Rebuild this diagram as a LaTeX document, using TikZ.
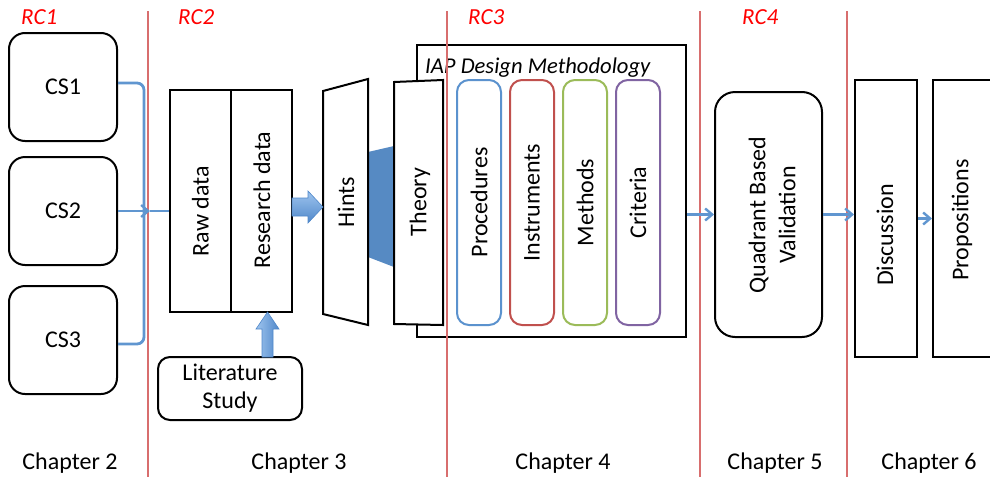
\documentclass[tikz,border=0pt]{standalone}
\usepackage{fontspec}
\setmainfont{Carlito}
\usetikzlibrary{arrows.meta,calc}

\definecolor{divider}{RGB}{216,110,110}
\definecolor{rclabel}{RGB}{255,0,0}
\definecolor{flow}{RGB}{96,150,208}
\definecolor{flowlight}{RGB}{158,196,238}
\definecolor{flowdark}{RGB}{80,136,202}
\definecolor{wedge}{RGB}{86,138,195}
\definecolor{cproc}{RGB}{91,146,206}
\definecolor{cinst}{RGB}{192,80,77}
\definecolor{cmeth}{RGB}{155,187,89}
\definecolor{ccrit}{RGB}{128,100,162}

\begin{document}
\begin{tikzpicture}[x=1pt,y=-1pt,
  txt/.style={font=\fontsize{24}{28}\selectfont},
  box/.style={draw=black,line width=2,fill=white,inner sep=0},
  rbox/.style={box,rounded corners=#1},
  vlabel/.style={txt,rotate=90,align=center},
  rc/.style={font=\fontsize{23}{26}\selectfont\itshape,text=rclabel,anchor=base west,inner sep=0},
  chap/.style={txt,anchor=base,inner sep=0},
  divline/.style={draw=divider,line width=1.1},
  flowline/.style={draw=flow,line width=2.8},
  flowarrow/.style={flowline,-{Straight Barb[length=7,width=12,line width=2.4]}},
  blockarrow/.style={draw=flowdark,line width=0.6},
]
\useasboundingbox (0,0) rectangle (990,477);
\clip (0,0) rectangle (990,477);

% case studies
\node[rbox=16,minimum width=108,minimum height=108,txt] (cs1) at (63,87) {CS1};
\node[rbox=16,minimum width=108,minimum height=108,txt] (cs2) at (63,211) {CS2};
\node[rbox=16,minimum width=108,minimum height=108,txt] (cs3) at (63,340) {CS3};

% raw / research data
\node[box,minimum width=61,minimum height=222] (raw) at (200.5,201) {};
\node[box,minimum width=61,minimum height=222] (res) at (261.5,201) {};
\node[vlabel] at (200.5,211) {Raw data};
\node[vlabel] at (262,200) {Research data};

% literature study
\node[rbox=12,minimum width=144,minimum height=63,txt,align=center] (lit) at (230,388.5) {Literature\\Study};

% IAP design methodology frame
\node[box,minimum width=269,minimum height=292] (iap) at (551.5,191) {};
\node[font=\fontsize{22.6}{26}\selectfont\itshape,anchor=base west,inner sep=0] (iaplabel) at (425,73) {IAP Design Methodology};

% link between hints and theory
\fill[wedge] (368,152) -- (394,146) -- (394,267) -- (368,257) -- cycle;

% hints
\draw[line width=2,fill=white] (323,91) -- (368,79) -- (368,325) -- (323,314) -- cycle;
\node[vlabel] (hints) at (346,202) {Hints};
\coordinate (hintsin) at (323,207);

% theory
\draw[line width=2,fill=white] (394,82) -- (443,80) -- (443,325) -- (394,324) -- cycle;
\node[vlabel] (theory) at (420,202) {Theory};

% methodology elements
\node[rbox=12,draw=cproc,minimum width=44,minimum height=245] (proc) at (479,202.5) {};
\node[rbox=12,draw=cinst,minimum width=44,minimum height=245] (inst) at (532,202.5) {};
\node[rbox=12,draw=cmeth,minimum width=44,minimum height=245] (meth) at (585,202.5) {};
\node[rbox=12,draw=ccrit,minimum width=44,minimum height=245] (crit) at (638,202.5) {};
\node[vlabel] at (proc) {Procedures};
\node[vlabel] at (inst) {Instruments};
\node[vlabel] at (meth) {Methods};
\node[vlabel] at (crit) {Criteria};

% validation
\node[rbox=20,minimum width=107,minimum height=245] (qbv) at (768.5,214.5) {};
\node[vlabel,font=\fontsize{24}{30}\selectfont] at (772,215) {Quadrant Based\\Validation};

% discussion and propositions
\node[box,minimum width=62,minimum height=277] (disc) at (886,218.5) {};
\node[box,minimum width=60,minimum height=277] (prop) at (963,218.5) {};
\node[vlabel] at (885,235) {Discussion};
\node[vlabel] at (962,220) {Propositions};

% chapter dividers
\draw[divline] (148,11) -- (148,477);
\draw[divline] (447,11) -- (447,477);
\draw[divline] (700,11) -- (700,477);
\draw[divline] (847,11) -- (847,477);

% research question labels
\node[rc] at (21,24) {RC1};
\node[rc] at (178,24) {RC2};
\node[rc] at (468,24) {RC3};
\node[rc] at (742,24) {RC4};

% chapter labels
\node[chap] at (70,469) {Chapter 2};
\node[chap] at (299,469) {Chapter 3};
\node[chap] at (563,469) {Chapter 4};
\node[chap] at (775,469) {Chapter 5};
\node[chap] at (929,469) {Chapter 6};

% case studies feed the data
\draw[flowline,rounded corners=7] ($(cs1.east)+(0,-4)$) -- ++(26,0) |- ($(cs3.east)+(0,4)$);
\coordinate (join) at (150,211);
\draw[flowarrow] (cs2.east) -- (join);
\draw[flowline] (join) -- (raw.west |- cs2.east);

% block arrow: research data to hints
\coordinate (rsA) at (292,207);
\shade[top color=flowlight,bottom color=flowdark,blockarrow]
  ($(rsA)+(0,-9)$) -- ($(hintsin)+(-15,-9)$) -- ($(hintsin)+(-15,-16)$) -- (hintsin)
  -- ($(hintsin)+(-15,16)$) -- ($(hintsin)+(-15,9)$) -- ($(rsA)+(0,9)$) -- cycle;

% block arrow: literature study to research data
\coordinate (luA) at (267.5,357);
\coordinate (luB) at (267.5,312);
\shade[left color=flowlight,right color=flowdark,blockarrow]
  ($(luA)+(-5.5,0)$) -- ($(luB)+(-5.5,17)$) -- ($(luB)+(-11.5,17)$) -- (luB)
  -- ($(luB)+(11.5,17)$) -- ($(luB)+(5.5,17)$) -- ($(luA)+(5.5,0)$) -- cycle;

% flow to validation and conclusions
\draw[flowarrow] (iap.east |- qbv.west) -- (qbv.west);
\draw[flowarrow] (qbv.east) -- (disc.west |- qbv.east);
\draw[flowarrow] (disc.east) -- (prop.west);
\end{tikzpicture}
\end{document}
